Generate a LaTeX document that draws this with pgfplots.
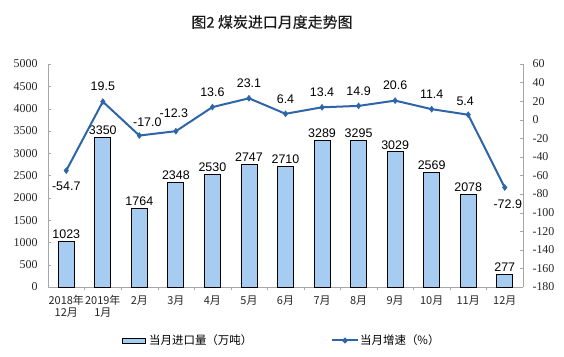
\documentclass[border=0pt]{standalone}
\usepackage{pgfplots}
\pgfplotsset{compat=1.18}
\usepackage{fontspec}
\setmainfont{Liberation Serif}
\newfontfamily\cjk{Noto Sans CJK SC}
\newfontfamily\cjkt[FakeBold=0.4]{Noto Sans CJK SC}
\newfontfamily\lab{Liberation Sans}
\definecolor{barfill}{HTML}{A6CCF2}
\definecolor{linec}{HTML}{2E64A8}
\definecolor{axc}{HTML}{A6A6A6}
\begin{document}
\begin{tikzpicture}
\path[use as bounding box] (0,0) rectangle (564bp,357bp);
\begin{axis}[
  at={(48bp,70bp)}, anchor=south west,
  scale only axis, width=475bp, height=223bp,
  xmin=-0.5, xmax=12.5, ymin=0, ymax=5000,
  ytick distance=500,
  axis y line*=left, axis x line*=bottom,
  axis line style={axc, thin},
  y axis line style={-}, x axis line style={-},
  ytick style={axc}, 
  xtick={0,...,12},
  xticklabels={{2018年\\12月},{2019年\\1月},2月,3月,4月,5月,6月,7月,8月,9月,10月,11月,12月},
  xticklabel style={font=\cjk\fontsize{11}{12}\selectfont, align=center, text=black!85, yshift=-2bp},
  major x tick style={draw=none},
  minor xtick={0.5,1.5,...,11.5},
  minor x tick style={axc},
  minor tick length=3bp,
  major tick length=3bp,
  yticklabel style={font=\fontsize{12}{12}\selectfont, text=black!85, xshift=-7bp},
  /pgf/number format/assume math mode=true,
  /pgf/number format/1000 sep={},
  ybar, bar width=16bp,
  nodes near coords,
  every node near coord/.append style={font=\lab\fontsize{12.5}{13}\selectfont, text=black, yshift=-1bp},
  clip=false,
]
\addplot[fill=barfill, draw=black, line width=0.9pt] coordinates {
(0,1023) (1,3350) (2,1764) (3,2348) (4,2530) (5,2747) (6,2710)
(7,3289) (8,3295) (9,3029) (10,2569) (11,2078) (12,277)};
\end{axis}
\begin{axis}[
  at={(48bp,70bp)}, anchor=south west,
  scale only axis, width=475bp, height=223bp,
  xmin=-0.5, xmax=12.5, ymin=-180, ymax=60,
  ytick distance=20,
  axis y line*=right, axis x line=none,
  axis line style={axc, thin, -},
  ytick style={axc},
  major tick length=3bp,
  ytick align=inside,
  yticklabel style={font=\fontsize{12}{12}\selectfont, text=black!85, xshift=6bp},
  /pgf/number format/assume math mode=true,
  clip=false,
]
\addplot[linec, line width=2bp, mark=diamond*, mark size=3pt, mark options={fill=linec, draw=linec, line width=0.5pt},
  nodes near coords, point meta=explicit symbolic,
  every node near coord/.append style={font=\lab\fontsize{12.5}{13}\selectfont, text=black, anchor=center},
  visualization depends on={value \thisrow{dx} \as \dx},
  visualization depends on={value \thisrow{dy} \as \dy},
  every node near coord/.append style={xshift=\dx bp, yshift=\dy bp},
] table[x=x, y=y, meta=lbl] {
x y lbl dx dy
0 -54.7 -54.7 0 -16
1 19.5 19.5 0 15
2 -17.0 -17.0 8 13
3 -12.3 -12.3 -2 18
4 13.6 13.6 0 15
5 23.1 23.1 0 15
6 6.4 6.4 0 15
7 13.4 13.4 0 15
8 14.9 14.9 0 15
9 20.6 20.6 0 15
10 11.4 11.4 0 15
11 5.4 5.4 -3 13
12 -72.9 -72.9 3 -17
};
\end{axis}
\node[font=\cjkt\fontsize{15}{16}\selectfont, text=black!90] at (272bp,335bp) {图2\ 煤炭进口月度走势图};
\begin{scope}[font=\cjk\fontsize{11.5}{12}\selectfont]
\draw[fill=barfill, draw=black, line width=0.9pt] (122bp,13.5bp) rectangle (145bp,19bp);
\node[anchor=west, inner sep=0pt] at (149bp,16.5bp) {当月进口量（万吨）};
\draw[linec, line width=2bp] (332bp,16.5bp) -- (358bp,16.5bp);
\fill[linec] (345bp,13.3bp) -- (348.2bp,16.5bp) -- (345bp,19.7bp) -- (341.8bp,16.5bp) -- cycle;
\node[anchor=west, inner sep=0pt] at (360bp,16.5bp) {当月增速（\%）};
\end{scope}
\end{tikzpicture}
\end{document}
